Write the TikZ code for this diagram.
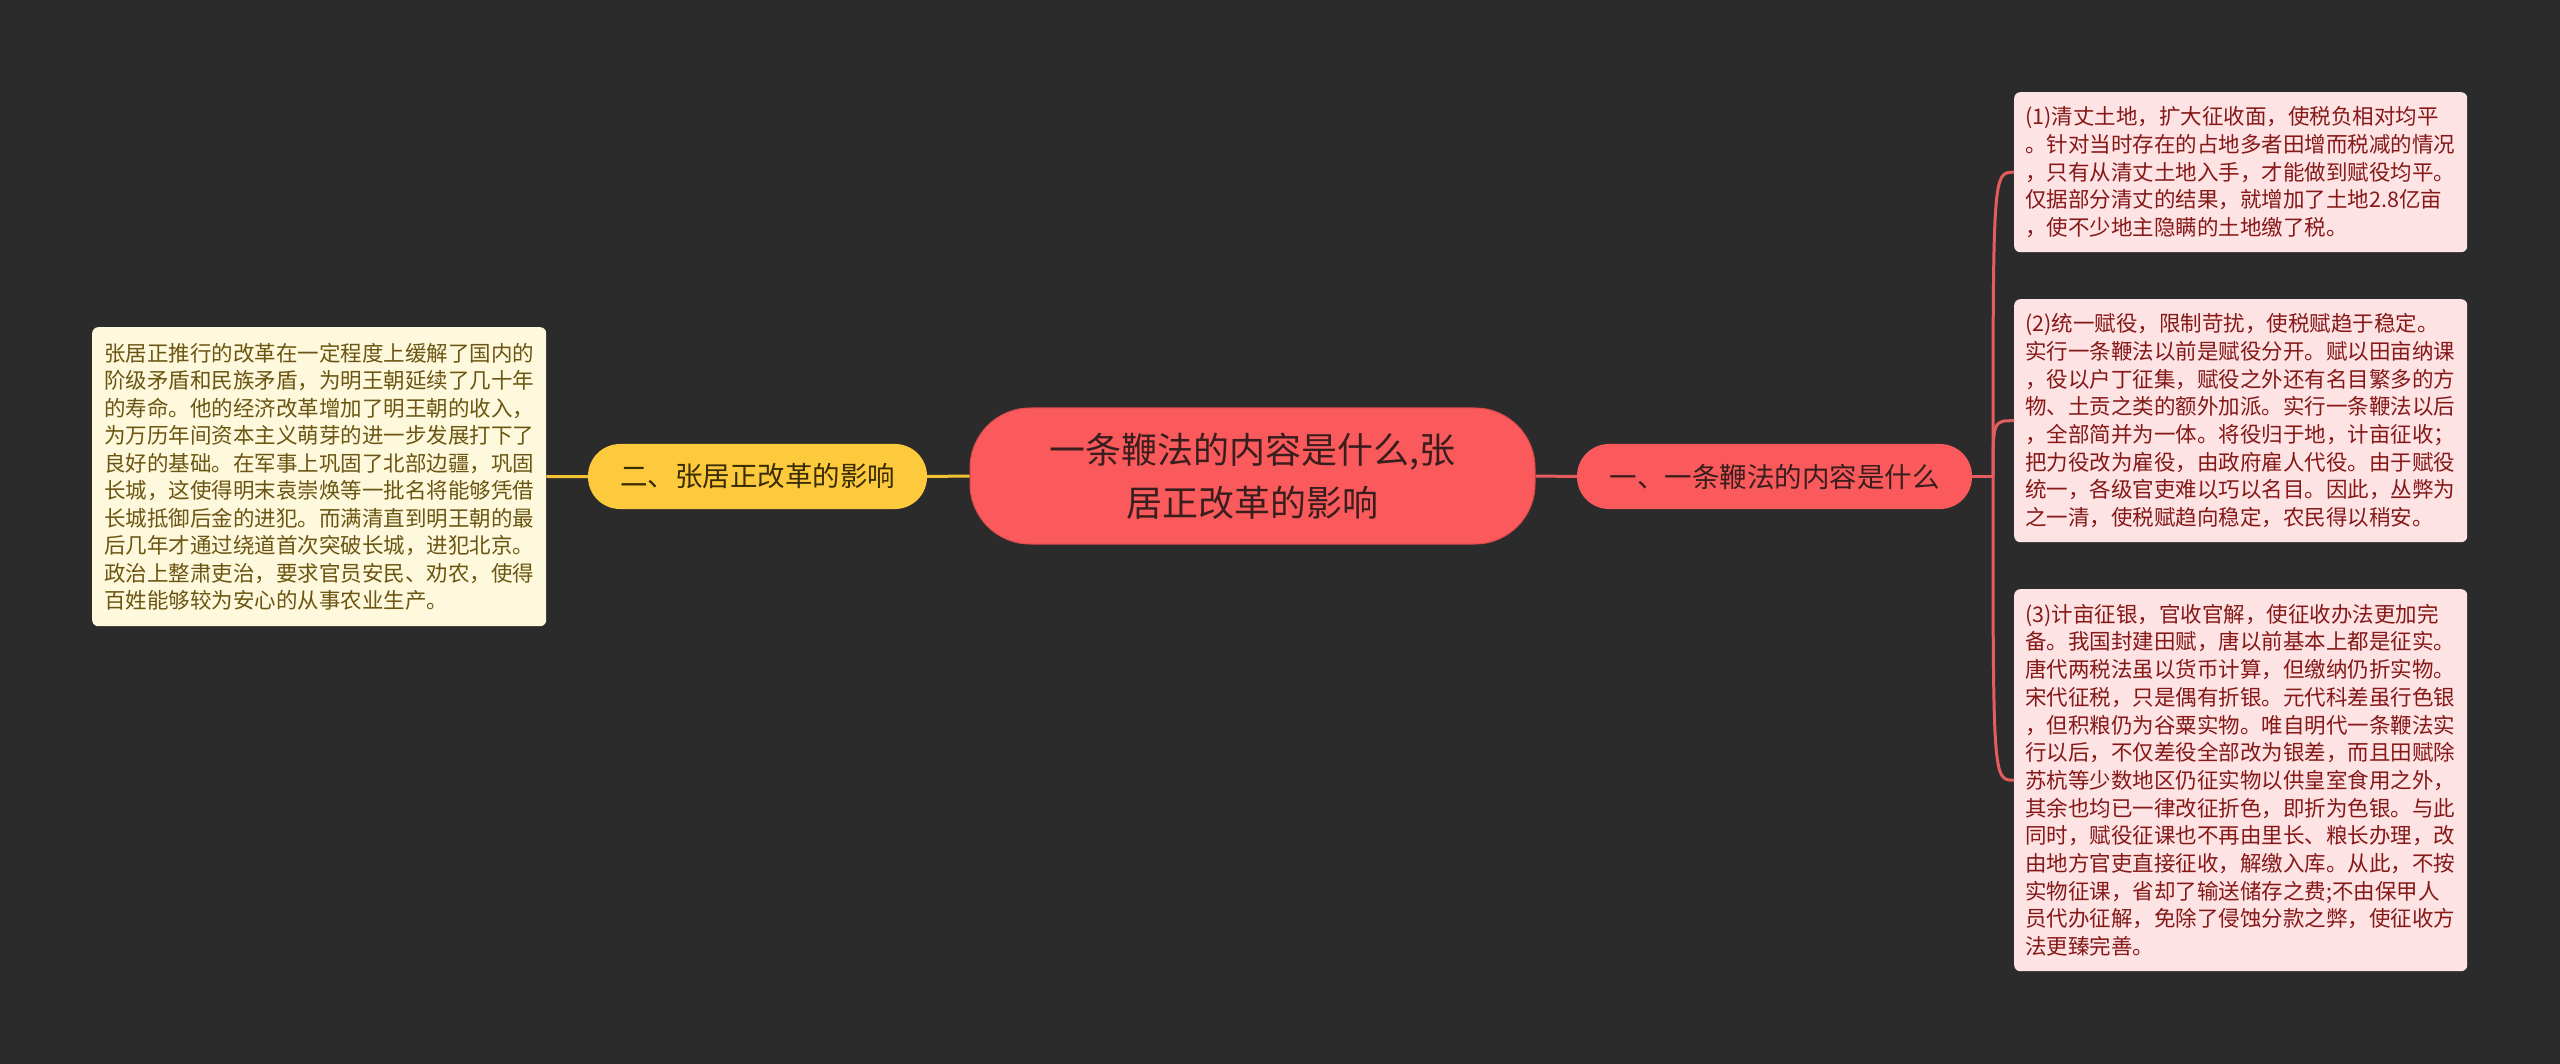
\documentclass[tikz,border=0pt]{standalone}
\usepackage{fontspec}
\setmainfont{Noto Sans CJK SC}
\setlength\parindent{0pt}
\definecolor{bg}{HTML}{2B2B2B}
\definecolor{rootred}{HTML}{FB5A5C}
\definecolor{rootedge}{HTML}{D94A4C}
\definecolor{roottext}{HTML}{3A1E1E}
\definecolor{yel}{HTML}{FDCA3D}
\definecolor{yeltext}{HTML}{3A2C05}
\definecolor{yline}{HTML}{F2C232}
\definecolor{rline}{HTML}{E45C5E}
\definecolor{pinkfill}{HTML}{FDE3E3}
\definecolor{pinktext}{HTML}{861818}
\definecolor{creamfill}{HTML}{FEF8DC}
\definecolor{creamtext}{HTML}{6B5512}
\begin{document}
\begin{tikzpicture}[x=1pt,y=-1pt,
  rootnode/.style={fill=rootred, draw=rootedge, line width=1pt, rounded corners=60pt,
    minimum width=565pt, minimum height=136pt, inner sep=0pt, align=center,
    text=roottext, font=\fontsize{36}{53}\selectfont},
  ybranch/.style={fill=yel, rounded corners=32pt, minimum width=339pt, minimum height=65pt,
    inner sep=0pt, text=yeltext, font=\fontsize{27.5}{33}\selectfont},
  rbranch/.style={fill=rootred, rounded corners=32pt, minimum width=395pt, minimum height=65pt,
    inner sep=0pt, text=roottext, font=\fontsize{27.5}{33}\selectfont},
  pinkleaf/.style={fill=pinkfill, text=pinktext, rounded corners=6pt, anchor=north west,
    inner xsep=11pt, inner ysep=0pt, text width=431pt, align=left,
    font=\fontsize{21.5}{27.7}\selectfont},
  creamleaf/.style={fill=creamfill, text=creamtext, rounded corners=6pt, anchor=north west,
    inner xsep=12pt, inner ysep=0pt, text width=430pt, align=left,
    font=\fontsize{21.5}{27.5}\selectfont},
  yconn/.style={draw=yline, line width=3pt},
  rconn/.style={draw=rline, line width=3pt}
]
\path[fill=bg, use as bounding box] (0,0) rectangle (2560,1064);

\node[rootnode] (root) at (1252.5,476) {一条鞭法的内容是什么,张\\居正改革的影响};
\node[ybranch] (yb) at (757.5,476.5) {二、张居正改革的影响};
\node[rbranch] (rb) at (1774.5,476.5) {一、一条鞭法的内容是什么};

\node[creamleaf, minimum height=299pt] (lbox) at (92,327) {张居正推行的改革在一定程度上缓解了国内的\\
阶级矛盾和民族矛盾，为明王朝延续了几十年\\
的寿命。他的经济改革增加了明王朝的收入，\\
为万历年间资本主义萌芽的进一步发展打下了\\
良好的基础。在军事上巩固了北部边疆，巩固\\
长城，这使得明末袁崇焕等一批名将能够凭借\\
长城抵御后金的进犯。而满清直到明王朝的最\\
后几年才通过绕道首次突破长城，进犯北京。\\
政治上整肃吏治，要求官员安民、劝农，使得\\
百姓能够较为安心的从事农业生产。};

\node[pinkleaf, minimum height=160pt] (b1) at (2014,92) {(1)清丈土地，扩大征收面，使税负相对均平\\
。针对当时存在的占地多者田增而税减的情况\\
，只有从清丈土地入手，才能做到赋役均平。\\
仅据部分清丈的结果，就增加了土地2.8亿亩\\
，使不少地主隐瞒的土地缴了税。};

\node[pinkleaf, minimum height=243pt] (b2) at (2014,299) {(2)统一赋役，限制苛扰，使税赋趋于稳定。\\
实行一条鞭法以前是赋役分开。赋以田亩纳课\\
，役以户丁征集，赋役之外还有名目繁多的方\\
物、土贡之类的额外加派。实行一条鞭法以后\\
，全部简并为一体。将役归于地，计亩征收；\\
把力役改为雇役，由政府雇人代役。由于赋役\\
统一，各级官吏难以巧以名目。因此，丛弊为\\
之一清，使税赋趋向稳定，农民得以稍安。};

\node[pinkleaf, minimum height=382pt] (b3) at (2014,589) {(3)计亩征银，官收官解，使征收办法更加完\\
备。我国封建田赋，唐以前基本上都是征实。\\
唐代两税法虽以货币计算，但缴纳仍折实物。\\
宋代征税，只是偶有折银。元代科差虽行色银\\
，但积粮仍为谷粟实物。唯自明代一条鞭法实\\
行以后，不仅差役全部改为银差，而且田赋除\\
苏杭等少数地区仍征实物以供皇室食用之外，\\
其余也均已一律改征折色，即折为色银。与此\\
同时，赋役征课也不再由里长、粮长办理，改\\
由地方官吏直接征收，解缴入库。从此，不按\\
实物征课，省却了输送储存之费;不由保甲人\\
员代办征解，免除了侵蚀分款之弊，使征收方\\
法更臻完善。};

% connectors
\draw[yconn] (lbox.east) -- (yb.west);
\draw[yconn] (yb.east) -- (root.west);
\draw[rconn] (root.east) -- (rb.west);
\coordinate (spine) at (1993,476.5);
\draw[rconn] (rb.east) -- (spine);
\draw[rconn] (spine) .. controls (spine |- b1.west) and (spine |- b1.west) .. (b1.west);
\draw[rconn] (spine) .. controls (spine |- b2.west) and (spine |- b2.west) .. (b2.west);
\draw[rconn] (spine) .. controls (spine |- b3.west) and (spine |- b3.west) .. (b3.west);
\end{tikzpicture}
\end{document}
